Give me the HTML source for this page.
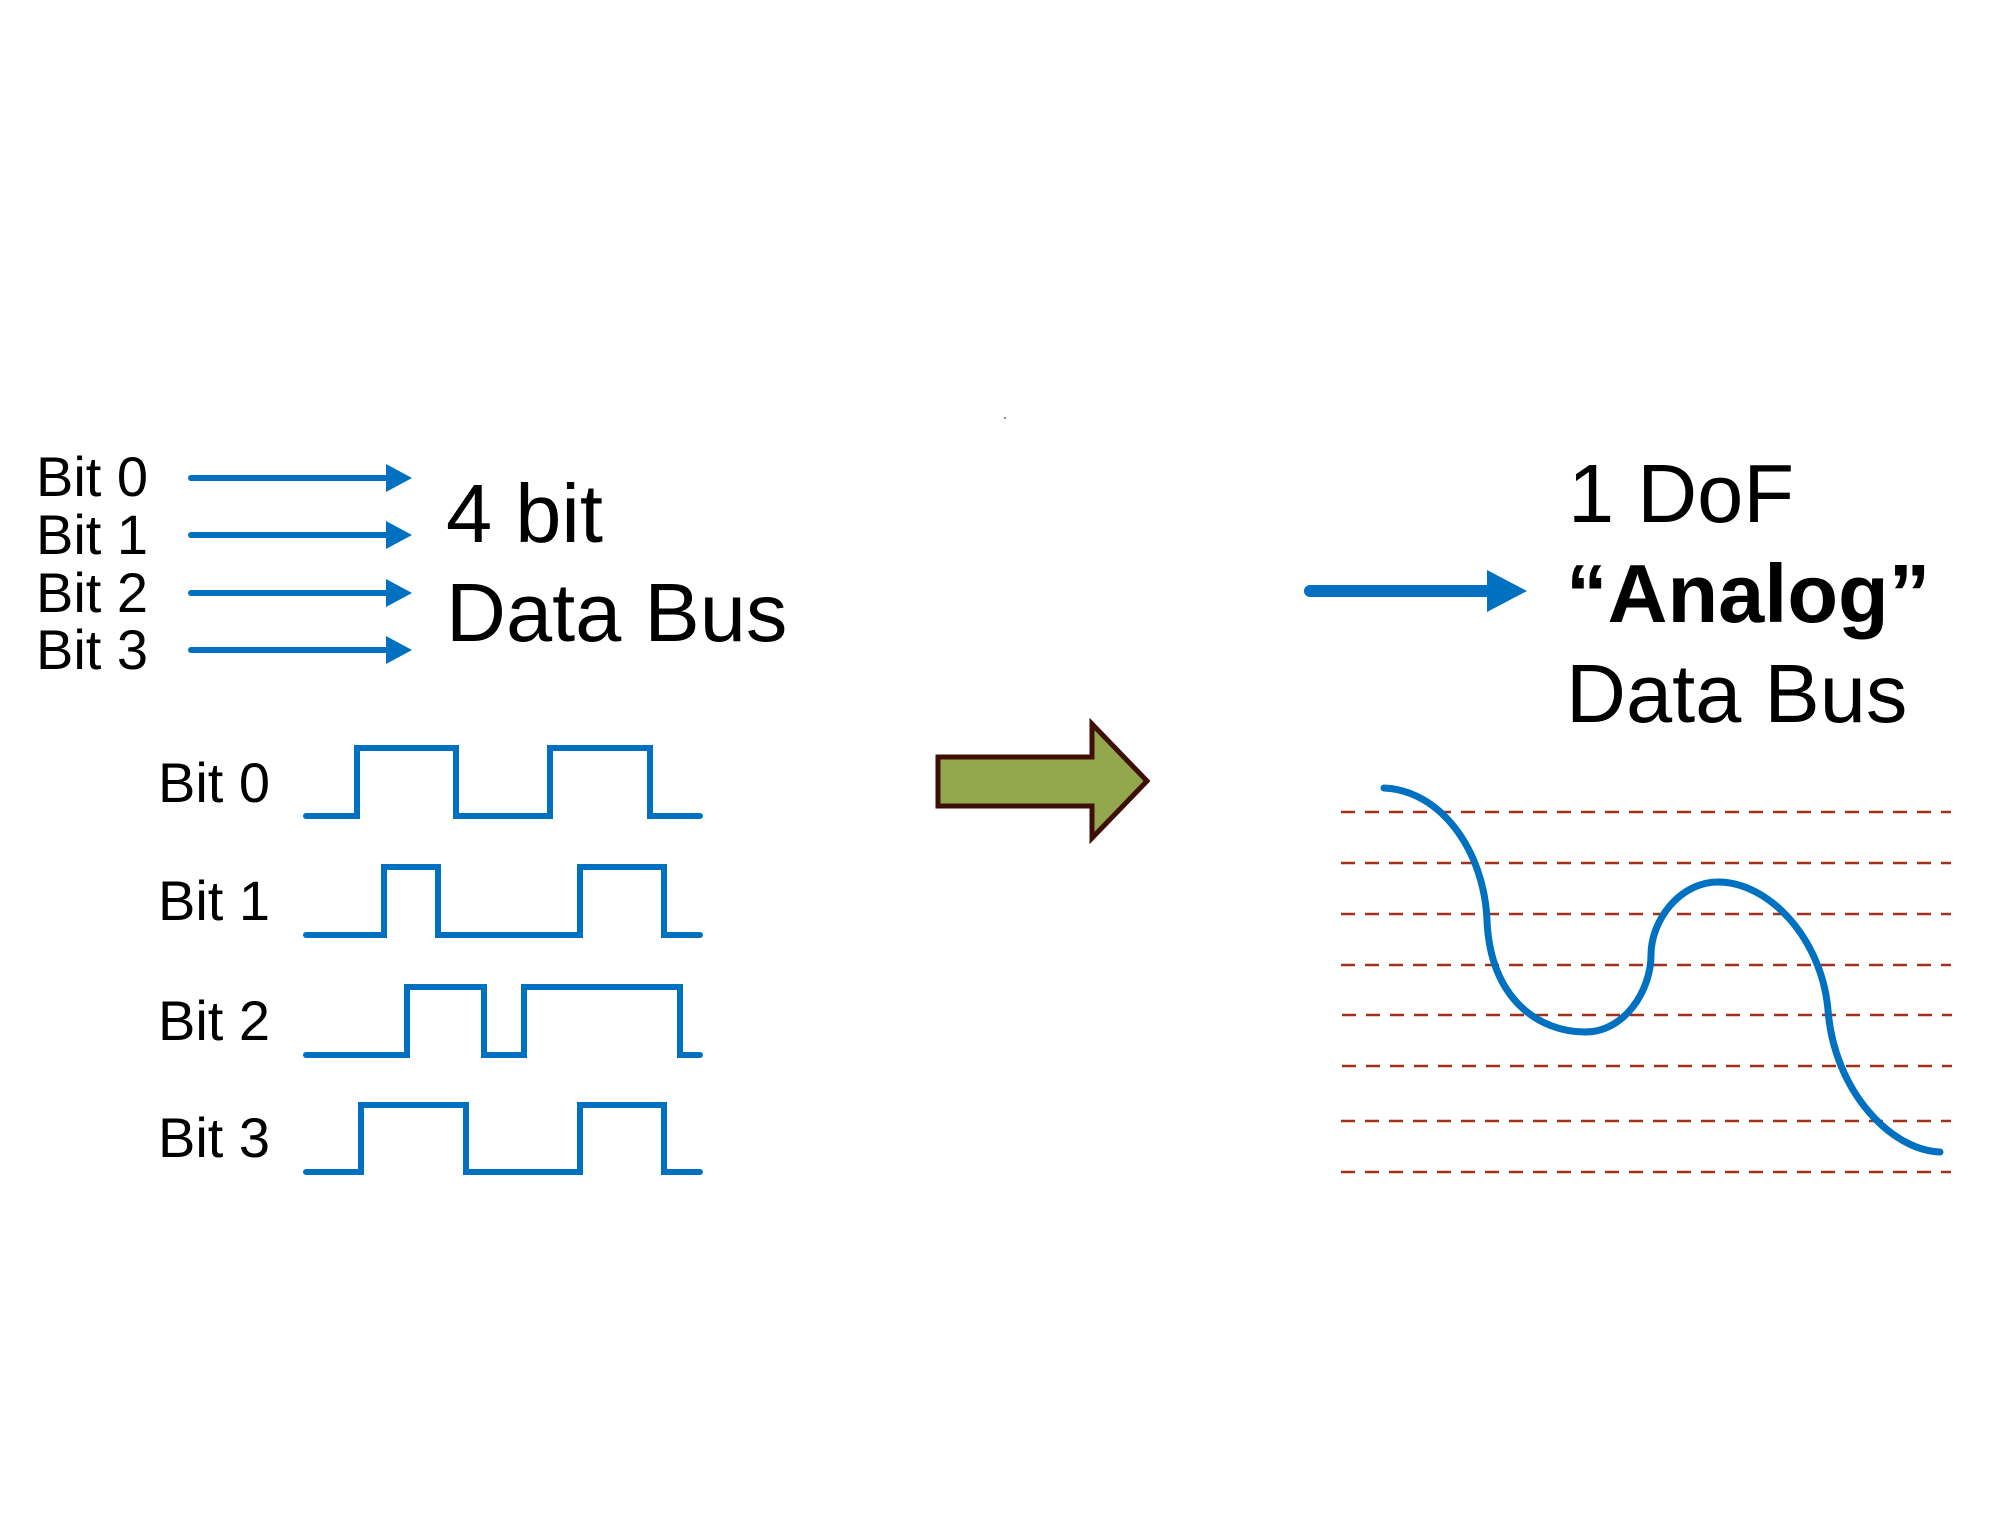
<!DOCTYPE html>
<html><head><meta charset="utf-8"><style>
html,body{margin:0;padding:0;background:#fff;}
svg{display:block;}
text{font-family:"Liberation Sans",sans-serif;fill:#000;}
</style></head><body>
<svg width="2000" height="1540" viewBox="0 0 2000 1540" xmlns="http://www.w3.org/2000/svg">
<g font-size="56">
<text x="36" y="496">Bit 0</text>
<text x="36" y="554">Bit 1</text>
<text x="36" y="612">Bit 2</text>
<text x="36" y="669">Bit 3</text>
</g>
<g stroke="#0070c0" stroke-width="6" stroke-linecap="round">
<line x1="191" y1="478" x2="388" y2="478"/>
<line x1="191" y1="535" x2="388" y2="535"/>
<line x1="191" y1="593" x2="388" y2="593"/>
<line x1="191" y1="650" x2="388" y2="650"/>
</g>
<g fill="#0070c0">
<polygon points="386,464 412,478 386,492"/>
<polygon points="386,521 412,535 386,549"/>
<polygon points="386,579 412,593 386,607"/>
<polygon points="386,636 412,650 386,664"/>
</g>
<text x="446" y="542" font-size="83">4 bit</text>
<text x="446" y="641" font-size="83">Data Bus</text>

<g font-size="56">
<text x="158" y="802">Bit 0</text>
<text x="158" y="920">Bit 1</text>
<text x="158" y="1040">Bit 2</text>
<text x="158" y="1157">Bit 3</text>
</g>
<g fill="none" stroke="#0070c0" stroke-width="6" stroke-linecap="round" stroke-linejoin="miter">
<polyline points="306,816 357,816 357,748 456,748 456,816 550,816 550,748 650,748 650,816 700,816"/>
<polyline points="306,935 384,935 384,867 438,867 438,935 580,935 580,867 664,867 664,935 700,935"/>
<polyline points="306,1055 407,1055 407,987 484,987 484,1055 524,1055 524,987 680,987 680,1055 700,1055"/>
<polyline points="306,1172 361,1172 361,1105 466,1105 466,1172 580,1172 580,1105 664,1105 664,1172 700,1172"/>
</g>

<polygon points="938,757 1092,757 1092,724 1147,781 1092,838 1092,806 938,806" fill="#93a84c" stroke="#3d0f05" stroke-width="5"/>

<line x1="1310" y1="591" x2="1492" y2="591" stroke="#0070c0" stroke-width="12" stroke-linecap="round"/>
<polygon points="1487,570 1527,591 1487,612" fill="#0070c0"/>

<text x="1568" y="522" font-size="83">1 DoF</text>
<text x="1566" y="622" font-size="83" font-weight="bold">“Analog”</text>
<text x="1566" y="722" font-size="83">Data Bus</text>

<g stroke="#a3301b" stroke-width="2.5" stroke-dasharray="14,10">
<line x1="1341" y1="812" x2="1951" y2="812"/>
<line x1="1341" y1="863" x2="1951" y2="863"/>
<line x1="1341" y1="914" x2="1951" y2="914"/>
<line x1="1341" y1="965" x2="1951" y2="965"/>
<line x1="1342" y1="1015" x2="1952" y2="1015"/>
<line x1="1342" y1="1066" x2="1952" y2="1066"/>
<line x1="1341" y1="1121" x2="1951" y2="1121"/>
<line x1="1341" y1="1172" x2="1951" y2="1172"/>
</g>
<path d="M1384,788 C1440,790 1484,850 1487,920 C1490,1000 1540,1032 1585,1032 C1625,1032 1651,990 1651,955 C1651,920 1680,882 1718,882 C1770,882 1822,940 1828,1010 C1834,1090 1890,1150 1940,1152" fill="none" stroke="#0070c0" stroke-width="7" stroke-linecap="round"/>
<circle cx="1005" cy="418" r="1" fill="#666"/>
</svg>
</body></html>
